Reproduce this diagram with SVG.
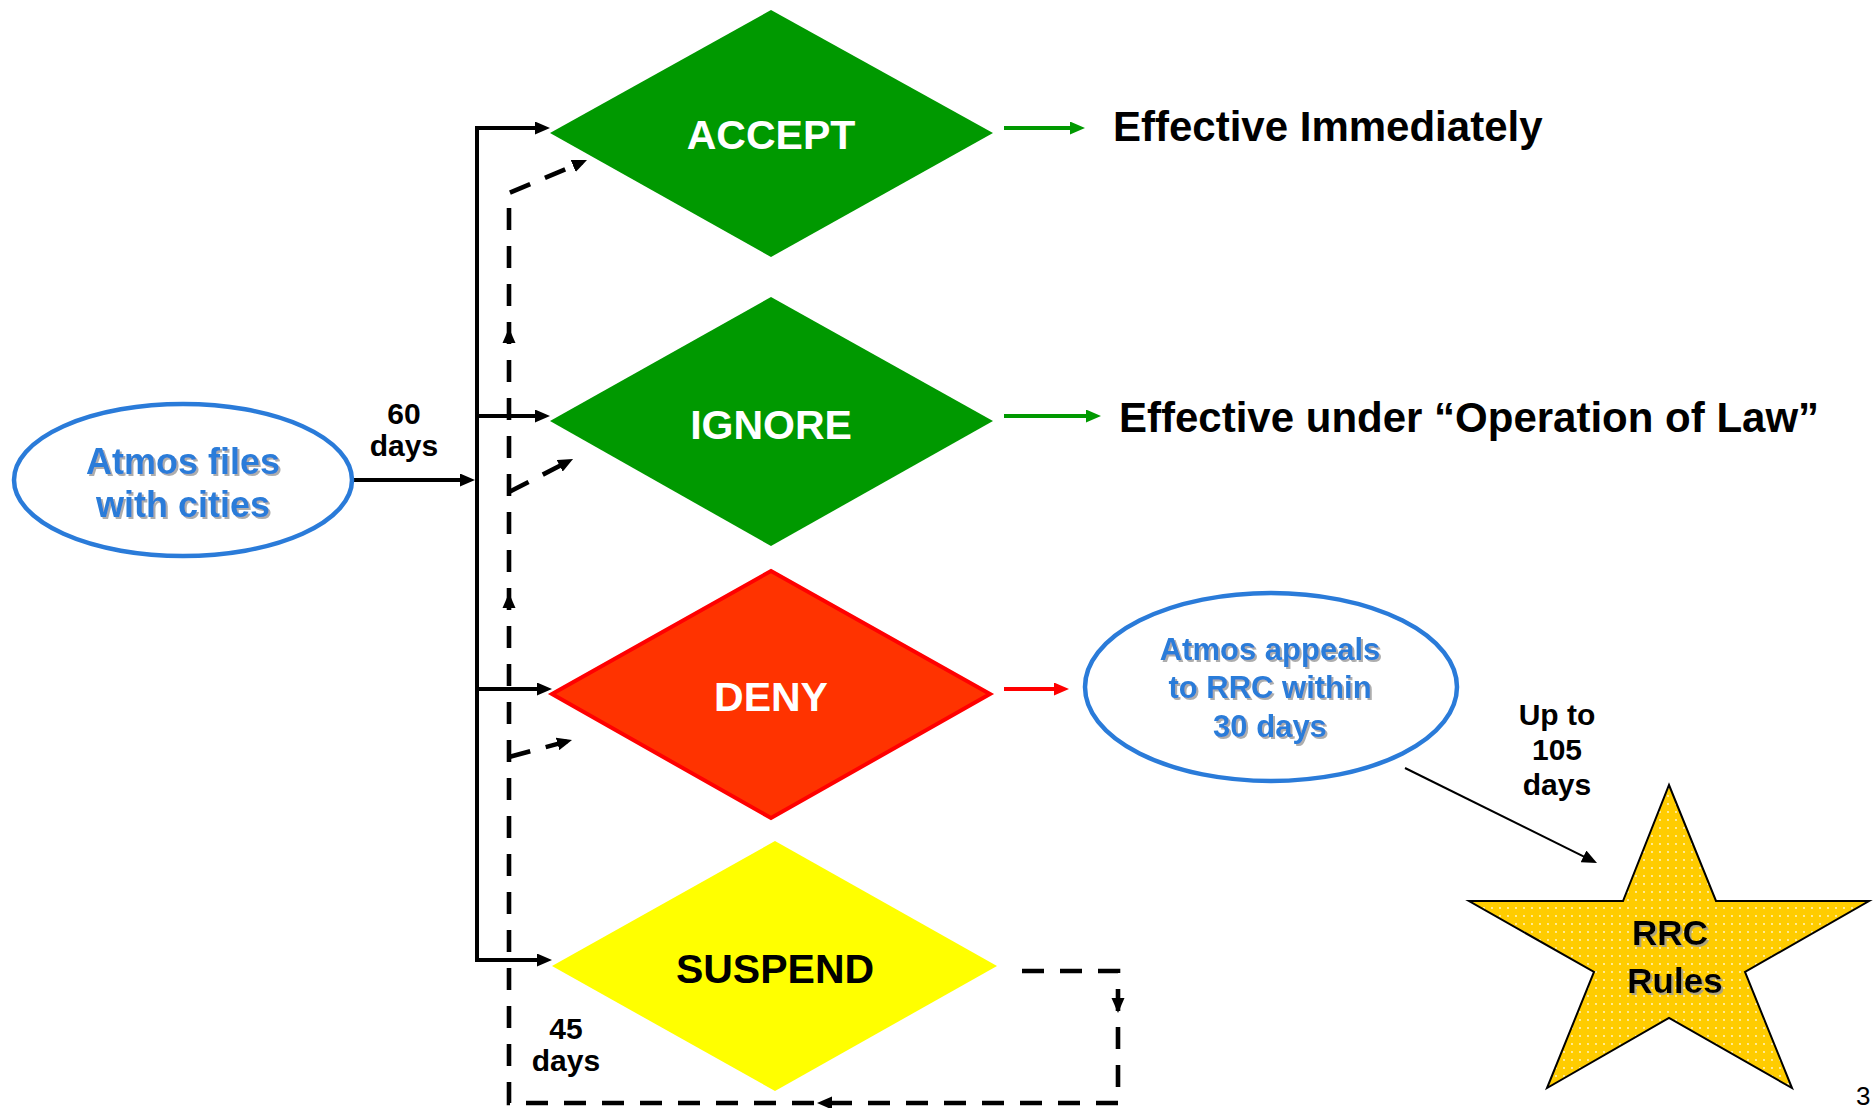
<svg xmlns="http://www.w3.org/2000/svg" width="1875" height="1108" viewBox="0 0 1875 1108">
<style>
text{font-family:"Liberation Sans",Arial,sans-serif;font-weight:bold;}
.dtxt{font-size:41px;text-anchor:middle;}
.lbl{font-size:30px;fill:#000;text-anchor:middle;}
.blue{fill:#2a7bd9;text-anchor:middle;filter:url(#shadow);}
.eff{font-size:42px;fill:#000;}
.solid{fill:none;stroke:#000;stroke-width:4;}
.dash{fill:none;stroke:#000;stroke-width:4.6;stroke-dasharray:22 16;}
.oval{fill:#fff;stroke:#2a7bd9;stroke-width:4.5;}
</style>
<defs>
<filter id="shadow" x="-10%" y="-10%" width="120%" height="130%">
<feDropShadow dx="2" dy="2" stdDeviation="0.6" flood-color="#999" flood-opacity="0.8"/>
</filter>
<pattern id="dots" width="8" height="8" patternUnits="userSpaceOnUse">
<rect width="8" height="8" fill="#ffcc00"/>
<circle cx="4" cy="4" r="0.9" fill="#fff" opacity="0.85"/>
</pattern>
<marker id="arr" viewBox="0 0 15 13" markerWidth="15" markerHeight="13" markerUnits="userSpaceOnUse" refX="10" refY="6.5" orient="auto">
<path d="M0,0 L15,6.5 L0,13 Z" fill="#000"/>
</marker>
<marker id="arrG" viewBox="0 0 15 13" markerWidth="15" markerHeight="13" markerUnits="userSpaceOnUse" refX="10" refY="6.5" orient="auto">
<path d="M0,0 L15,6.5 L0,13 Z" fill="#009900"/>
</marker>
<marker id="arrR" viewBox="0 0 15 13" markerWidth="15" markerHeight="13" markerUnits="userSpaceOnUse" refX="10" refY="6.5" orient="auto">
<path d="M0,0 L15,6.5 L0,13 Z" fill="#ff0000"/>
</marker>
</defs>
<rect width="1875" height="1108" fill="#fff"/>

<g id="connectors">
<path class="solid" d="M352,480 H470" marker-end="url(#arr)"/>
<path class="solid" d="M477,126 V962"/>
<path class="solid" d="M475,128 H545" marker-end="url(#arr)"/>
<path class="solid" d="M475,416 H545" marker-end="url(#arr)"/>
<path class="solid" d="M475,689 H547" marker-end="url(#arr)"/>
<path class="solid" d="M475,960 H547" marker-end="url(#arr)"/>
<path d="M1004,128 H1080" stroke="#009900" stroke-width="4" fill="none" marker-end="url(#arrG)"/>
<path d="M1004,416 H1096" stroke="#009900" stroke-width="4" fill="none" marker-end="url(#arrG)"/>
<path d="M1004,689 H1064" stroke="#ff0000" stroke-width="4" fill="none" marker-end="url(#arrR)"/>
<path d="M1405,768 L1592.5,860.8" stroke="#000" stroke-width="2" fill="none" marker-end="url(#arr)"/>
<path class="dash" d="M1022,971 H1118 V1103 H509 V193 L582.4,162" marker-end="url(#arr)"/>
<path class="dash" d="M509,492 L568.6,461.3" marker-end="url(#arr)"/>
<path class="dash" d="M509,757 L567.2,741.3" marker-end="url(#arr)"/>
<polygon points="1111.5,998 1124.5,998 1118,1013" fill="#000"/>
<polygon points="832,1096.5 832,1109.5 817,1103" fill="#000"/>
<polygon points="502.5,608 515.5,608 509,593" fill="#000"/>
<polygon points="502.5,343 515.5,343 509,328" fill="#000"/>
<text class="lbl" x="404" y="424">60</text>
<text class="lbl" x="404" y="456">days</text>
<text class="lbl" x="566" y="1039">45</text>
<text class="lbl" x="566" y="1071">days</text>
<text class="lbl" x="1557" y="725">Up to</text>
<text class="lbl" x="1557" y="760">105</text>
<text class="lbl" x="1557" y="795">days</text>
</g>

<g id="atmos-files">
<ellipse class="oval" cx="183" cy="480" rx="169" ry="76"/>
<text class="blue" x="183" y="474" font-size="36">Atmos files</text>
<text class="blue" x="183" y="517" font-size="36">with cities</text>
</g>

<g id="accept">
<polygon points="771,10 993,133 771,257 550,133" fill="#009900"/>
<text class="dtxt" x="771" y="149" fill="#fff">ACCEPT</text>
</g>

<g id="ignore">
<polygon points="771,297 993,421 771,546 550,421" fill="#009900"/>
<text class="dtxt" x="771" y="439" fill="#fff">IGNORE</text>
</g>

<g id="deny">
<polygon points="771,571 990,694 771,818 552,694" fill="#ff3300" stroke="#ff0000" stroke-width="4"/>
<text class="dtxt" x="771" y="711" fill="#fff">DENY</text>
</g>

<g id="suspend">
<polygon points="775,841 997,966 775,1091 552,966" fill="#ffff00"/>
<text class="dtxt" x="775" y="983" fill="#000">SUSPEND</text>
</g>

<g id="effective-immediately">
<text class="eff" x="1113" y="141">Effective Immediately</text>
</g>

<g id="effective-law">
<text class="eff" x="1119" y="432" font-size="42.6">Effective under “Operation of Law”</text>
</g>

<g id="atmos-appeals">
<ellipse class="oval" cx="1271" cy="687" rx="186" ry="94"/>
<text class="blue" x="1270" y="660" font-size="31">Atmos appeals</text>
<text class="blue" x="1270" y="698" font-size="31">to RRC within</text>
<text class="blue" x="1270" y="737" font-size="31">30 days</text>
</g>

<g id="rrc-rules">
<polygon points="1669,785 1716,901 1869,901 1745,972 1792,1088 1669,1018 1547,1088 1594,972 1469,901 1623,901" fill="url(#dots)" stroke="#000" stroke-width="2"/>
<text x="1670" y="945" font-size="35" text-anchor="middle" fill="#000" filter="url(#shadow)">RRC</text>
<text x="1675" y="993" font-size="35" text-anchor="middle" fill="#000" filter="url(#shadow)">Rules</text>
</g>

<text x="1856" y="1105" font-size="26" style="font-weight:normal">3</text>
</svg>
